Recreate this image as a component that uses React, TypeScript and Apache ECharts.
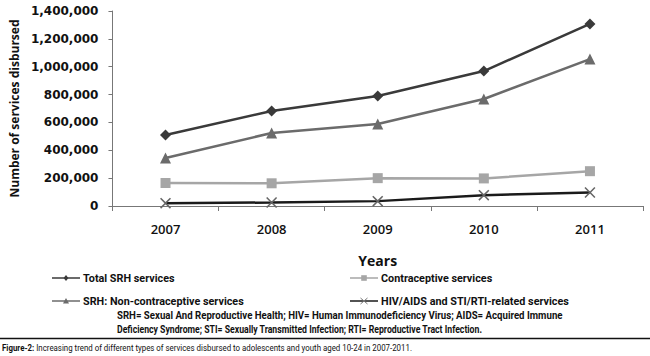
import React, { useEffect, useRef } from "react";
import * as echarts from "echarts";

const years = ["2007", "2008", "2009", "2010", "2011"];
const totalSRH = [510000, 682000, 790000, 969000, 1307000];
const contraceptive = [165000, 163000, 200000, 198000, 250000];
const nonContraceptive = [345000, 524000, 589000, 768000, 1055000];
const hivSti = [20000, 25000, 35000, 78000, 97000];

const seriesNames = [
  "Total SRH services",
  "Contraceptive services",
  "SRH: Non-contraceptive services",
  "HIV/AIDS and STI/RTI-related services",
];

const footnote1 =
  "SRH= Sexual And Reproductive Health; HIV= Human Immunodeficiency Virus; AIDS= Acquired Immune";
const footnote2 =
  "Deficiency Syndrome; STI= Sexually Transmitted Infection; RTI= Reproductive Tract Infection.";
const captionBold = "Figure-2:";
const captionText =
  " Increasing trend of different types of services disbursed to adolescents and youth aged 10-24 in 2007-2011.";

const MAIN = "'Open Sans', 'DejaVu Sans', sans-serif";
const NAR = "Roboto, 'DejaVu Sans Condensed', sans-serif";
const XSYM = "path://M0,1 L1,0 L5,4 L9,0 L10,1 L6,5 L10,9 L9,10 L5,6 L1,10 L0,9 L4,5 Z";

const C_TOTAL = "#3a3a3a";
const C_CONTRA = "#a6a6a6";
const C_NON = "#6b6b6b";
const C_HIV = "#1a1a1a";

function legendItem(x0: number, y: number, name: string, color: string, sym: string, symColor: string) {
  const cx = x0 + 14;
  const s = 3;
  let icon: any;
  if (sym === "diamond") {
    icon = { type: "polygon", shape: { points: [[cx, y - s], [cx + s * 0.8, y], [cx, y + s], [cx - s * 0.8, y]] }, style: { fill: symColor } };
  } else if (sym === "triangle") {
    icon = { type: "polygon", shape: { points: [[cx, y - s], [cx + s, y + s * 0.8], [cx - s, y + s * 0.8]] }, style: { fill: symColor } };
  } else if (sym === "rect") {
    icon = { type: "rect", shape: { x: cx - 2.8, y: y - 2.8, width: 5.6, height: 5.6 }, style: { fill: symColor } };
  } else {
    icon = {
      type: "group",
      children: [
        { type: "line", shape: { x1: cx - 3.5, y1: y - 3, x2: cx + 3.5, y2: y + 3 }, style: { stroke: symColor, lineWidth: 1 } },
        { type: "line", shape: { x1: cx - 3.5, y1: y + 3, x2: cx + 3.5, y2: y - 3 }, style: { stroke: symColor, lineWidth: 1 } },
      ],
    };
  }
  return [
    { type: "line", shape: { x1: x0, y1: y, x2: x0 + 28, y2: y }, style: { stroke: color, lineWidth: 1.5 } },
    icon,
    {
      type: "text",
      x: x0 + 31,
      y: y,
      scaleX: 0.94,
      style: { text: name, font: `bold 11.5px ${NAR}`, fill: "#111", align: "left", verticalAlign: "middle" },
    },
  ];
}

export default function App() {
  const ref = useRef<HTMLDivElement>(null);
  useEffect(() => {
    if (!ref.current) return;
    const chart = echarts.init(ref.current, undefined, { renderer: "svg" });
    const mk = (name: string, data: number[], color: string, symbol: string, size: number, symColor: string) => ({
      name,
      type: "line",
      data,
      symbol,
      symbolSize: size,
      lineStyle: { color, width: 2.5 },
      itemStyle: { color: symColor },
      z: 3,
    });
    chart.setOption({
      animation: false,
      backgroundColor: "#ffffff",
      grid: { left: 100, right: 7, top: 11, bottom: 150, containLabel: false },
      xAxis: {
        type: "category",
        data: years,
        boundaryGap: true,
        name: "Years",
        nameLocation: "middle",
        nameGap: 47,
        nameTextStyle: { fontFamily: MAIN, fontWeight: "bold", fontSize: 14, color: "#111" },
        axisLine: { lineStyle: { color: "#777", width: 1 } },
        axisTick: { show: true, length: 5, lineStyle: { color: "#777" } },
        axisLabel: { margin: 16, fontFamily: MAIN, fontWeight: 600, fontSize: 13, color: "#111" },
        splitLine: { show: false },
      },
      yAxis: {
        type: "value",
        min: 0,
        max: 1400000,
        interval: 200000,
        name: "Number of services disbursed",
        nameLocation: "middle",
        nameGap: 80,
        nameRotate: 90,
        nameTextStyle: { fontFamily: MAIN, fontWeight: "bold", fontSize: 12, color: "#111" },
        axisLine: { show: true, lineStyle: { color: "#777", width: 1 } },
        axisTick: { show: true, length: 4, lineStyle: { color: "#777" } },
        axisLabel: {
          margin: 14,
          fontFamily: "'DejaVu Sans', sans-serif",
          fontWeight: "bold",
          fontSize: 12,
          color: "#111",
          formatter: (v: number) => v.toLocaleString("en-US"),
        },
        splitLine: { show: false },
      },
      series: [
        mk(seriesNames[0], totalSRH, C_TOTAL, "diamond", 11, C_TOTAL),
        mk(seriesNames[1], contraceptive, C_CONTRA, "rect", 10, C_CONTRA),
        mk(seriesNames[2], nonContraceptive, C_NON, "triangle", 11, C_NON),
        mk(seriesNames[3], hivSti, C_HIV, XSYM, 11, "#666666"),
      ],
      graphic: [
        ...legendItem(52, 278, seriesNames[0], C_TOTAL, "diamond", C_TOTAL),
        ...legendItem(52, 301, seriesNames[2], C_NON, "triangle", C_NON),
        ...legendItem(350, 278, seriesNames[1], C_CONTRA, "rect", C_CONTRA),
        ...legendItem(350, 301, seriesNames[3], C_HIV, "x", "#777777"),
        {
          type: "text",
          x: 117,
          y: 315,
          scaleX: 0.92,
          style: { text: footnote1, font: `bold 10.5px ${NAR}`, fill: "#111", verticalAlign: "middle" },
        },
        {
          type: "text",
          x: 117,
          y: 329,
          scaleX: 0.83,
          style: { text: footnote2, font: `bold 10.5px ${NAR}`, fill: "#111", verticalAlign: "middle" },
        },
        {
          type: "line",
          shape: { x1: 0, y1: 338.5, x2: 650, y2: 338.5 },
          style: { stroke: "#111", lineWidth: 1.5 },
        },
        {
          type: "text",
          x: 2,
          y: 348,
          scaleX: 0.83,
          style: {
            text: `{b|${captionBold}}{r|${captionText}}`,
            verticalAlign: "middle",
            rich: {
              b: { font: `bold 9.5px ${NAR}`, fill: "#111" },
              r: { font: `9.5px ${NAR}`, fill: "#111" },
            },
          },
        },
      ],
    });
    return () => chart.dispose();
  }, []);
  return <div ref={ref} style={{ position: "fixed", left: 0, top: 0, width: 650, height: 356 }} />;
}
